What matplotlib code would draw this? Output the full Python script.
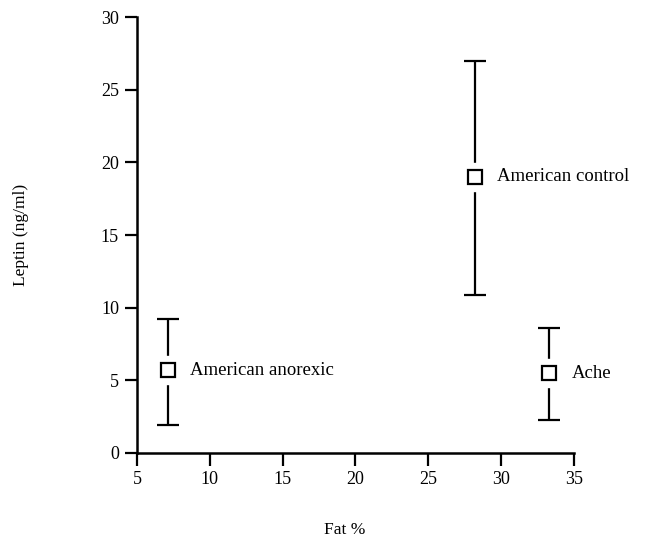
import matplotlib
matplotlib.use("Agg")
import matplotlib.pyplot as plt

plt.rcParams['font.family'] = ['Liberation Serif', 'DejaVu Serif']

# group means with error bar ends
groups = ["American anorexic", "American control", "Ache"]
fat_pct = [7.1, 28.2, 33.3]
leptin = [5.7, 19.0, 5.5]
leptin_hi = [9.2, 27.0, 8.6]
leptin_lo = [1.9, 10.9, 2.3]

x_ticks = [5, 10, 15, 20, 25, 30, 35]
y_ticks = [0, 5, 10, 15, 20, 25, 30]

fig = plt.figure(figsize=(6.51, 5.6), dpi=100)
ax = fig.add_axes([0.2104, 0.1911, 0.6713, 0.7785])

yerr = [[m - lo for m, lo in zip(leptin, leptin_lo)],
        [hi - m for m, hi in zip(leptin, leptin_hi)]]
ax.errorbar(fat_pct, leptin, yerr=yerr, fmt='none', ecolor='black',
            elinewidth=1.6, capsize=8, capthick=1.6, zorder=2)
# white halo so the bars stop short of the box
ax.plot(fat_pct, leptin, linestyle='none', marker='s', markersize=20,
        markerfacecolor='white', markeredgecolor='white', zorder=3)
ax.plot(fat_pct, leptin, linestyle='none', marker='s', markersize=10,
        markerfacecolor='white', markeredgecolor='black',
        markeredgewidth=1.6, zorder=4)

for x, y, name in zip(fat_pct, leptin, groups):
    ax.annotate(name, (x, y), xytext=(16, 0), textcoords='offset points',
                va='center', ha='left', fontsize=13.5)

ax.set_xlim(5, 35)
ax.set_ylim(0, 30)
ax.set_xticks(x_ticks)
ax.set_yticks(y_ticks)
ax.tick_params(direction='out', length=9, width=1.6, labelsize=13, pad=4)

for side in ['top', 'right']:
    ax.spines[side].set_visible(False)
for side in ['left', 'bottom']:
    ax.spines[side].set_linewidth(1.8)

ax.set_ylabel('Leptin (ng/ml)', fontsize=12.5)
ax.set_xlabel('Fat %', fontsize=12.5)
ax.yaxis.set_label_coords(-0.248, 0.5)
ax.xaxis.set_label_coords(0.475, -0.158)

plt.savefig("out.png", dpi=100)
